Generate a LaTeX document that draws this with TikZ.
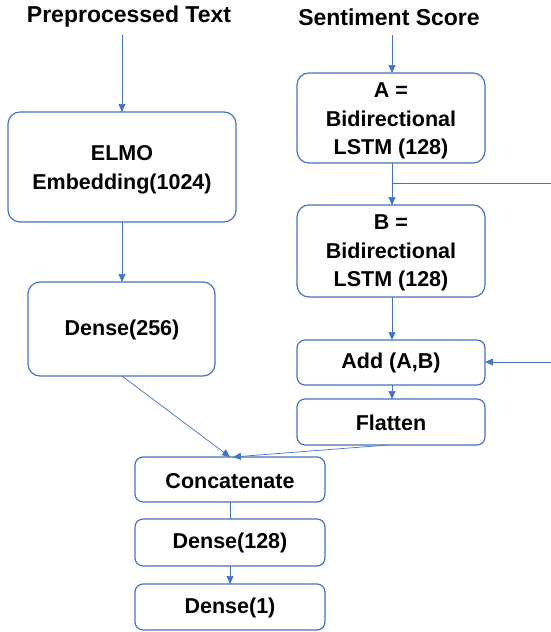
\documentclass[tikz,border=0pt]{standalone}
\usepackage{fontspec}
\setmainfont{Liberation Sans}
\usetikzlibrary{arrows.meta}
\definecolor{bl}{HTML}{4472C4}
\begin{document}
\begin{tikzpicture}[x=1pt,y=-1pt,
  box/.style={draw=bl,line width=1.2pt,rounded corners=12pt,fill=white},
  txt/.style={font=\bfseries\fontsize{21.5}{28.5}\selectfont,align=center},
  ttl/.style={font=\bfseries\fontsize{23}{26}\selectfont,align=center},
  conn/.style={draw=bl,line width=0.7pt},
  arr/.style={conn,-{Triangle[length=8pt,width=7pt]}}]
\useasboundingbox (0,0) rectangle (551,632);
% boxes
\path[box] (8,112) rectangle (236,222); \node[txt] (elmo) at (122,170) {ELMO\\Embedding(1024)};
\path[box] (28,282) rectangle (215,376); \node[txt] (d256) at (122,330) {Dense(256)};
\path[box] (297,73) rectangle (485,163); \node[txt] (a) at (391,121) {A =\\Bidirectional\\LSTM (128)};
\path[box] (297,205) rectangle (485,297); \node[txt] (b) at (391,253) {B =\\Bidirectional\\LSTM (128)};
\path[box,rounded corners=8pt] (297,340) rectangle (485,385); \node[txt] (add) at (391,363) {Add (A,B)};
\path[box,rounded corners=8pt] (297,399) rectangle (485,445); \node[txt] (flat) at (391,423) {Flatten};
\path[box,rounded corners=8pt] (135,457) rectangle (325,502); \node[txt] (cat) at (230,481) {Concatenate};
\path[box,rounded corners=8pt] (135,519) rectangle (325,566); \node[txt] (d128) at (230,543) {Dense(128)};
\path[box,rounded corners=8pt] (135,584) rectangle (325,630); \node[txt] (d1) at (230,608) {Dense(1)};
% titles
\node[ttl] (t1) at (129,17) {Preprocessed Text};
\node[ttl] (t2) at (389,17) {Sentiment Score};
% named anchor coordinates
\coordinate (t1s) at (122,35); \coordinate (elmoN) at (122,112);
\coordinate (t2s) at (392,35); \coordinate (aN) at (392,73);
\coordinate (elmoS) at (122,222); \coordinate (d256N) at (122,282);
\coordinate (aS) at (392,163); \coordinate (bN) at (392,205);
\coordinate (br) at (392,183); \coordinate (brE) at (551,183);
\coordinate (bS) at (392,297); \coordinate (addN) at (392,340);
\coordinate (rin) at (551,362); \coordinate (addE) at (485,362);
\coordinate (addS) at (392,385); \coordinate (flatN) at (392,399);
\coordinate (d256S) at (122,376); \coordinate (catN1) at (230,457);
\coordinate (flatS) at (388,445); \coordinate (catN2) at (233,457);
\coordinate (catS) at (230,502); \coordinate (d128N) at (230,519);
\coordinate (d128S) at (230,566); \coordinate (d1N) at (230,584);
% connectors
\draw[arr] (t1s) -- (elmoN);
\draw[arr] (t2s) -- (aN);
\draw[arr] (elmoS) -- (d256N);
\draw[arr] (aS) -- (bN);
\draw[conn] (br) -- (brE);
\draw[arr] (bS) -- (addN);
\draw[arr] (rin) -- (addE);
\draw[arr] (addS) -- (flatN);
\draw[arr] (d256S) -- (catN1);
\draw[arr] (flatS) -- (catN2);
\draw[conn] (catS) -- (d128N);
\draw[arr] (d128S) -- (d1N);
\end{tikzpicture}
\end{document}
